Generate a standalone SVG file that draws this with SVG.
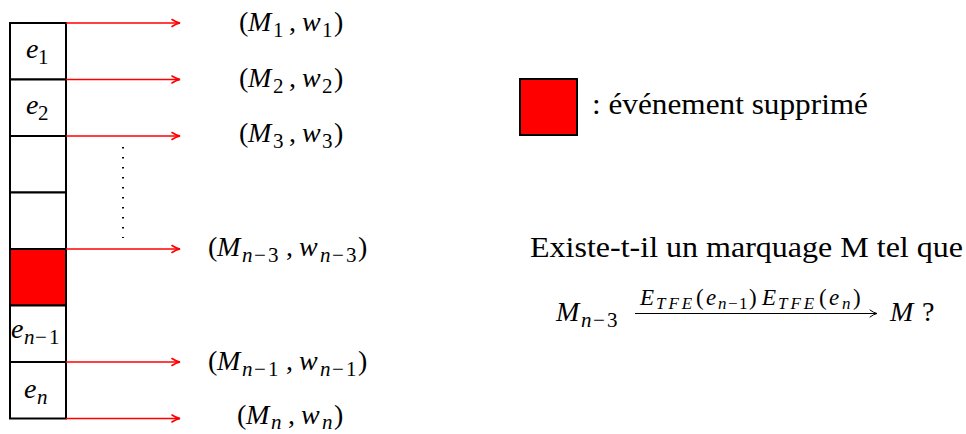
<svg xmlns="http://www.w3.org/2000/svg" width="966" height="434" viewBox="0 0 966 434">
<defs>
<style>
.box{fill:#fff;stroke:#000;stroke-width:2}
.del{fill:#f00;stroke:#000;stroke-width:2}
.arr{stroke:#f00;stroke-width:1.6;fill:none;marker-end:url(#ah)}
.t{font-family:"Liberation Serif",serif;font-size:28px;fill:#000}
.i{font-style:italic}
.s{font-size:21px}
.lb{font-size:23px}
.ls{font-size:17px;letter-spacing:3px}
.l2{font-size:17px}
</style>
<marker id="ah" markerUnits="userSpaceOnUse" markerWidth="12" markerHeight="12" refX="10" refY="5" viewBox="0 0 12 10" orient="auto" overflow="visible">
<path d="M2,1.5 Q6,4.2 10,5 Q6,5.8 2,8.5" fill="none" stroke="#f00" stroke-width="1.6" stroke-linecap="round"/>
</marker>
<marker id="ahk" markerUnits="userSpaceOnUse" markerWidth="12" markerHeight="12" refX="10" refY="5" viewBox="0 0 12 10" orient="auto" overflow="visible">
<path d="M3,1.5 Q6.5,4.2 10,5 Q6.5,5.8 3,8.5" fill="none" stroke="#000" stroke-width="1" stroke-linecap="round"/>
</marker>
</defs>
<rect width="966" height="434" fill="#fff"/>

<g id="stack">
<g id="cell1"><rect class="box" x="10" y="23" width="56" height="56.5"/><text class="t" y="58"><tspan class="i" x="26">e</tspan><tspan class="s" x="38" dy="6">1</tspan></text></g>
<g id="cell2"><rect class="box" x="10" y="79.5" width="56" height="56.5"/><text class="t" y="114"><tspan class="i" x="26">e</tspan><tspan class="s" x="38" dy="6">2</tspan></text></g>
<g id="cell3"><rect class="box" x="10" y="136" width="56" height="56.5"/></g>
<g id="cell4"><rect class="box" x="10" y="192.5" width="56" height="56.5"/></g>
<g id="cell5"><rect class="del" x="10" y="249" width="56" height="56.5"/></g>
<g id="cell6"><rect class="box" x="10" y="305.5" width="56" height="56.5"/><text class="t" y="338"><tspan class="i" x="11">e</tspan><tspan class="s i" x="24" dy="6">n</tspan><tspan class="s" x="35">−</tspan><tspan class="s" x="49">1</tspan></text></g>
<g id="cell7"><rect class="box" x="10" y="362" width="56" height="56.5"/><text class="t" y="398"><tspan class="i" x="24">e</tspan><tspan class="s i" x="37" dy="6">n</tspan></text></g>
</g>

<g id="connectors">
<line class="arr" x1="66" y1="23" x2="180" y2="23"/>
<line class="arr" x1="66" y1="79.5" x2="180" y2="79.5"/>
<line class="arr" x1="66" y1="136" x2="180" y2="136"/>
<line class="arr" x1="66" y1="249" x2="180" y2="249"/>
<line class="arr" x1="66" y1="362" x2="180" y2="362"/>
<line class="arr" x1="66" y1="418.5" x2="180" y2="418.5"/>
<line x1="123" y1="147" x2="123" y2="238" stroke="#000" stroke-width="2" stroke-dasharray="1.6 8.4"/>
</g>

<g id="labels">
<text class="t" y="31"><tspan x="239">(</tspan><tspan class="i" x="248">M</tspan><tspan class="s" x="273" dy="6">1</tspan><tspan x="289" dy="-6">,</tspan><tspan class="i" x="302">w</tspan><tspan class="s" x="322" dy="6">1</tspan><tspan x="334" dy="-6">)</tspan></text>
<text class="t" y="87"><tspan x="239">(</tspan><tspan class="i" x="248">M</tspan><tspan class="s" x="273" dy="6">2</tspan><tspan x="289" dy="-6">,</tspan><tspan class="i" x="302">w</tspan><tspan class="s" x="322" dy="6">2</tspan><tspan x="334" dy="-6">)</tspan></text>
<text class="t" y="142"><tspan x="239">(</tspan><tspan class="i" x="248">M</tspan><tspan class="s" x="273" dy="6">3</tspan><tspan x="289" dy="-6">,</tspan><tspan class="i" x="302">w</tspan><tspan class="s" x="322" dy="6">3</tspan><tspan x="334" dy="-6">)</tspan></text>
<text class="t" y="256"><tspan x="208">(</tspan><tspan class="i" x="217">M</tspan><tspan class="s i" x="242" dy="6">n</tspan><tspan class="s" x="254">−</tspan><tspan class="s" x="268">3</tspan><tspan x="286" dy="-6">,</tspan><tspan class="i" x="299">w</tspan><tspan class="s i" x="320" dy="6">n</tspan><tspan class="s" x="332">−</tspan><tspan class="s" x="346">3</tspan><tspan x="358" dy="-6">)</tspan></text>
<text class="t" y="370"><tspan x="208">(</tspan><tspan class="i" x="217">M</tspan><tspan class="s i" x="242" dy="6">n</tspan><tspan class="s" x="254">−</tspan><tspan class="s" x="268">1</tspan><tspan x="286" dy="-6">,</tspan><tspan class="i" x="299">w</tspan><tspan class="s i" x="320" dy="6">n</tspan><tspan class="s" x="332">−</tspan><tspan class="s" x="346">1</tspan><tspan x="358" dy="-6">)</tspan></text>
<text class="t" y="424"><tspan x="237">(</tspan><tspan class="i" x="246">M</tspan><tspan class="s i" x="271" dy="5">n</tspan><tspan x="288" dy="-5">,</tspan><tspan class="i" x="301">w</tspan><tspan class="s i" x="322" dy="5">n</tspan><tspan x="334" dy="-5">)</tspan></text>
</g>

<g id="legend">
<rect class="del" x="520" y="79" width="57" height="56"/>
<text class="t" x="592" y="114" style="font-size:29px" textLength="276" lengthAdjust="spacingAndGlyphs">: événement supprimé</text>
</g>

<g id="question">
<text class="t" x="530" y="256.5" style="font-size:29px" textLength="433" lengthAdjust="spacingAndGlyphs">Existe-t-il un marquage M tel que</text>
<text class="t" y="321"><tspan class="i" x="556">M</tspan><tspan class="s i" x="581" dy="6">n</tspan><tspan class="s" x="593">−</tspan><tspan class="s" x="607">3</tspan></text>
<line x1="635" y1="313.5" x2="877" y2="313.5" stroke="#000" stroke-width="1" marker-end="url(#ahk)"/>
<text class="t lb" y="305"><tspan class="i" x="640">E</tspan><tspan class="i ls" x="656" dy="4">TFE</tspan><tspan x="696" dy="-4">(</tspan><tspan class="i" x="706">e</tspan><tspan class="i l2" x="718" dy="4">n</tspan><tspan class="l2" x="728">−</tspan><tspan class="l2" x="739">1</tspan><tspan x="749" dy="-4">)</tspan><tspan class="i" x="762">E</tspan><tspan class="i ls" x="778" dy="4">TFE</tspan><tspan x="819" dy="-4">(</tspan><tspan class="i" x="829">e</tspan><tspan class="i l2" x="842" dy="4">n</tspan><tspan x="853" dy="-4">)</tspan></text>
<text class="t" y="321"><tspan class="i" x="890">M</tspan><tspan x="922">?</tspan></text>
</g>
</svg>
